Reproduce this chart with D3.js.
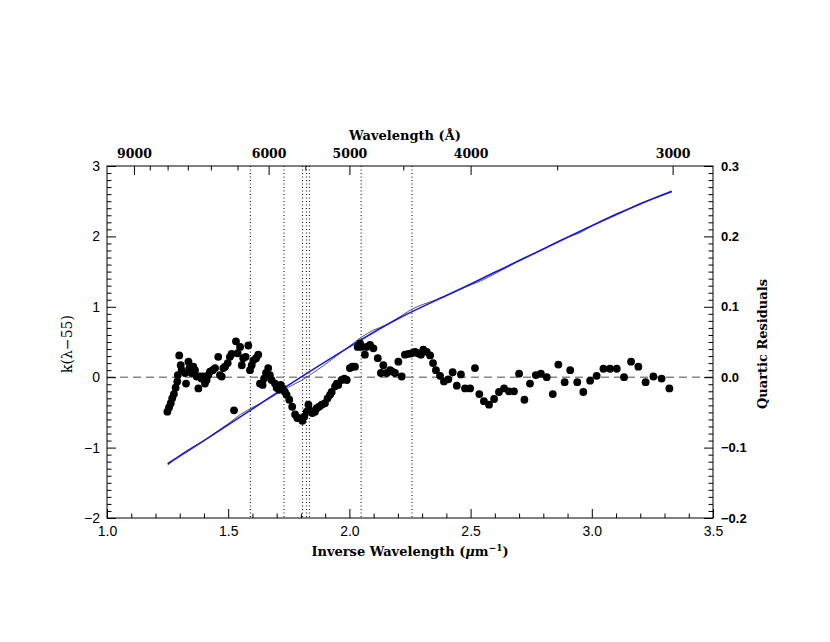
<!DOCTYPE html>
<html><head><meta charset="utf-8">
<script src="https://cdn.jsdelivr.net/npm/d3@7"></script>
<style>body{margin:0;background:#fff}svg{display:block}</style>
</head><body>
<svg id="c" width="830" height="642"></svg>
<script>
// ---- data ----
const fitX = [1.25,1.40,1.60,1.80,2.00,2.20,2.40,2.60,2.80,3.00,3.20,3.33];
const fitY = [-1.23,-0.90,-0.45,0.00,0.43,0.83,1.16,1.49,1.82,2.15,2.46,2.64];
const specX = [1.25,1.30,1.35,1.40,1.45,1.50,1.55,1.60,1.65,1.70,1.75,1.80,1.85,1.90,1.95,2.00,2.05,2.10,2.15,2.20,2.25,2.30,2.35,2.40,2.45,2.50,2.55,2.60,2.65,2.70,2.75,2.80,2.85,2.90,2.95,3.00,3.05,3.10,3.15,3.20,3.25,3.33];
const specY = [-1.25,-1.11,-1.00,-0.90,-0.78,-0.66,-0.53,-0.43,-0.34,-0.24,-0.14,-0.05,0.06,0.18,0.31,0.44,0.57,0.67,0.74,0.84,0.95,1.03,1.09,1.16,1.24,1.31,1.38,1.47,1.56,1.66,1.74,1.82,1.91,1.99,2.05,2.15,2.24,2.32,2.39,2.47,2.53,2.63];
const resX = [1.249,1.256,1.263,1.269,1.276,1.283,1.290,1.292,1.298,1.304,1.308,1.322,1.326,1.336,1.340,1.349,1.356,1.363,1.370,1.377,1.383,1.390,1.397,1.404,1.411,1.418,1.425,1.436,1.446,1.459,1.466,1.473,1.480,1.487,1.498,1.507,1.514,1.524,1.532,1.539,1.549,1.556,1.562,1.572,1.583,1.590,1.597,1.604,1.615,1.624,1.631,1.642,1.648,1.656,1.665,1.672,1.679,1.693,1.700,1.710,1.717,1.725,1.734,1.741,1.752,1.764,1.776,1.785,1.796,1.806,1.814,1.824,1.831,1.837,1.847,1.858,1.865,1.875,1.886,1.899,1.910,1.920,1.927,1.941,1.948,1.954,1.968,1.979,1.989,2.002,2.012,2.023,2.034,2.044,2.051,2.064,2.071,2.085,2.099,2.117,2.130,2.140,2.154,2.168,2.177,2.188,2.202,2.216,2.229,2.243,2.257,2.271,2.282,2.295,2.305,2.319,2.333,2.345,2.357,2.374,2.390,2.408,2.426,2.443,2.460,2.477,2.498,2.518,2.536,2.555,2.576,2.597,2.617,2.638,2.658,2.679,2.700,2.722,2.745,2.769,2.790,2.814,2.839,2.862,2.888,2.911,2.940,2.965,2.993,3.020,3.048,3.075,3.103,3.133,3.162,3.192,3.222,3.254,3.288,3.320];
const resY = [-0.049,-0.043,-0.037,-0.030,-0.024,-0.015,-0.006,0.003,0.031,0.017,0.010,0.006,-0.009,0.022,0.013,0.006,0.015,0.010,0.001,-0.016,0.001,-0.002,0.001,-0.009,-0.004,0.003,0.008,0.010,0.013,0.029,0.003,0.001,0.013,0.015,0.020,0.029,0.033,-0.047,0.051,0.034,0.043,0.017,0.027,0.029,0.045,0.010,0.017,0.024,0.027,0.032,-0.009,-0.011,-0.002,0.006,0.013,0.003,-0.004,-0.009,-0.015,-0.018,-0.011,-0.016,-0.021,-0.025,-0.032,-0.042,-0.053,-0.058,-0.058,-0.062,-0.056,-0.049,-0.039,-0.047,-0.051,-0.049,-0.044,-0.042,-0.039,-0.037,-0.030,-0.025,-0.021,-0.013,-0.009,-0.011,-0.004,-0.002,-0.004,0.013,0.015,0.015,0.043,0.048,0.043,0.032,0.043,0.046,0.041,0.027,0.006,0.017,0.006,0.010,0.008,0.006,0.022,0.001,0.032,0.033,0.034,0.036,0.034,0.032,0.039,0.036,0.031,0.020,0.010,0.002,-0.006,-0.003,0.007,-0.012,0.004,-0.016,-0.016,0.013,-0.024,-0.034,-0.039,-0.031,-0.021,-0.016,-0.020,-0.020,0.005,-0.032,-0.009,0.003,0.005,0.000,-0.024,0.018,-0.007,0.010,-0.007,-0.021,-0.005,0.002,0.012,0.012,0.012,0.000,0.022,0.015,-0.007,0.001,-0.002,-0.016];
const dibWavelengths = [6284,5780,5535,5487,5450,4882,4428]; // Å
const bottomMajor = [1.0,1.5,2.0,2.5,3.0,3.5];
const leftMajor = [-2,-1,0,1,2,3];
const rightMajor = [-0.2,-0.1,0.0,0.1,0.2,0.3];
const topMajorA = [9000,6000,5000,4000,3000];
const topMinorA = [8500,8000,7500,7000,6500,5500,4500,3500];

// ---- layout ----
const L=107, R=713, T=166, B=518;
const svg = d3.select("#c");
const x = d3.scaleLinear().domain([1.0,3.5]).range([L,R]);
const y = d3.scaleLinear().domain([-2,3]).range([B,T]);
const yr = d3.scaleLinear().domain([-0.2,0.3]).range([B,T]);

const sans = "'Liberation Sans', Arial, sans-serif";
const serif = "'DejaVu Serif', serif";

// dotted DIB lines
svg.append("g").selectAll("line").data(dibWavelengths).join("line")
  .attr("x1", d=>x(1e4/d)).attr("x2", d=>x(1e4/d))
  .attr("y1", T).attr("y2", B)
  .attr("stroke","#000").attr("stroke-width",1).attr("stroke-dasharray","1,2.5");

// zero dashed line
svg.append("line").attr("x1",L).attr("x2",R).attr("y1",yr(0)).attr("y2",yr(0))
  .attr("stroke","#888").attr("stroke-width",1.4).attr("stroke-dasharray","8,5");

// spectrum (thin) and fit (blue)
const lineS = d3.line().x(d=>x(d[0])).y(d=>y(d[1])).curve(d3.curveMonotoneX);
const lineF = d3.line().x(d=>x(d[0])).y(d=>y(d[1])).curve(d3.curveNatural);
svg.append("path").datum(specX.map((v,i)=>[v,specY[i]])).attr("d",lineS)
  .attr("fill","none").attr("stroke","#444").attr("stroke-width",0.9);
svg.append("path").datum(fitX.map((v,i)=>[v,fitY[i]])).attr("d",lineF)
  .attr("fill","none").attr("stroke","#1515ee").attr("stroke-width",1.6);

// residual points
svg.append("g").selectAll("circle").data(resX.map((v,i)=>[v,resY[i]])).join("circle")
  .attr("cx",d=>x(d[0])).attr("cy",d=>yr(d[1])).attr("r",3.9).attr("fill","#000");

// frame
svg.append("rect").attr("x",L).attr("y",T).attr("width",R-L).attr("height",B-T)
  .attr("fill","none").attr("stroke","#000").attr("stroke-width",1);

function styleAxis(g){ g.select(".domain").remove(); g.selectAll(".tick line").attr("stroke","#000"); }

// bottom axis
const minorB = d3.range(10,36).map(v=>v/10).filter(v=>!bottomMajor.some(m=>Math.abs(m-v)<1e-6));
svg.append("g").attr("transform",`translate(0,${B})`)
  .call(d3.axisBottom(x).tickValues(minorB).tickSize(-4.5).tickFormat("")).call(styleAxis);
svg.append("g").attr("transform",`translate(0,${B})`)
  .call(d3.axisBottom(x).tickValues(bottomMajor).tickSize(-9).tickPadding(8).tickFormat(d3.format(".1f")))
  .call(styleAxis)
  .call(g=>g.selectAll("text").attr("font-family",sans).attr("font-size",14).attr("fill","#000"));

// top axis (wavelength)
svg.append("g").attr("transform",`translate(0,${T})`)
  .call(d3.axisTop(x).tickValues(topMinorA.map(l=>1e4/l)).tickSize(-4.5).tickFormat("")).call(styleAxis);
svg.append("g").attr("transform",`translate(0,${T})`)
  .call(d3.axisTop(x).tickValues(topMajorA.map(l=>1e4/l)).tickSize(-9).tickPadding(8)
    .tickFormat(v=>String(Math.round(1e4/v/100)*100)))
  .call(styleAxis)
  .call(g=>g.selectAll("text").attr("font-family",serif).attr("font-weight","bold").attr("font-size",12.5).attr("fill","#000"));

// left axis
const minorL = d3.range(-20,31).map(v=>v/10).filter(v=>!leftMajor.some(m=>Math.abs(m-v)<1e-6));
svg.append("g").attr("transform",`translate(${L},0)`)
  .call(d3.axisLeft(y).tickValues(minorL).tickSize(-4.5).tickFormat("")).call(styleAxis);
svg.append("g").attr("transform",`translate(${L},0)`)
  .call(d3.axisLeft(y).tickValues(leftMajor).tickSize(-9).tickPadding(7).tickFormat(d=>d<0?"\u2212"+Math.abs(d):String(d)))
  .call(styleAxis)
  .call(g=>g.selectAll("text").attr("font-family",sans).attr("font-size",14).attr("fill","#000"));

// right axis
const minorR = d3.range(-20,31).map(v=>v/100).filter(v=>!rightMajor.some(m=>Math.abs(m-v)<1e-6));
svg.append("g").attr("transform",`translate(${R},0)`)
  .call(d3.axisRight(yr).tickValues(minorR).tickSize(-4.5).tickFormat("")).call(styleAxis);
svg.append("g").attr("transform",`translate(${R},0)`)
  .call(d3.axisRight(yr).tickValues(rightMajor).tickSize(-9).tickPadding(8)
    .tickFormat(d=>(d<0?"\u2212":"")+Math.abs(d).toFixed(1)))
  .call(styleAxis)
  .call(g=>g.selectAll("text").attr("font-family",sans).attr("font-weight","bold").attr("font-size",13).attr("fill","#000"));

// titles
svg.append("text").attr("x",405).attr("y",140).attr("text-anchor","middle")
  .attr("font-family",serif).attr("font-weight","bold").attr("font-size",13).text("Wavelength (Å)");
const bt = svg.append("text").attr("x",410).attr("y",556).attr("text-anchor","middle")
  .attr("font-family",serif).attr("font-weight","bold").attr("font-size",13);
bt.append("tspan").text("Inverse Wavelength (");
bt.append("tspan").attr("font-style","italic").text("μ");
bt.append("tspan").text("m");
bt.append("tspan").attr("font-size",9).attr("dy",-5).text("−1");
bt.append("tspan").attr("dy",5).text(")");
svg.append("text").attr("transform","translate(72,344) rotate(-90)").attr("text-anchor","middle")
  .attr("font-family",serif).attr("font-size",14).text("k(λ−55)");
svg.append("text").attr("transform","translate(767,344) rotate(-90)").attr("text-anchor","middle")
  .attr("font-family",serif).attr("font-weight","bold").attr("font-size",13).text("Quartic Residuals");
</script>
</body></html>
